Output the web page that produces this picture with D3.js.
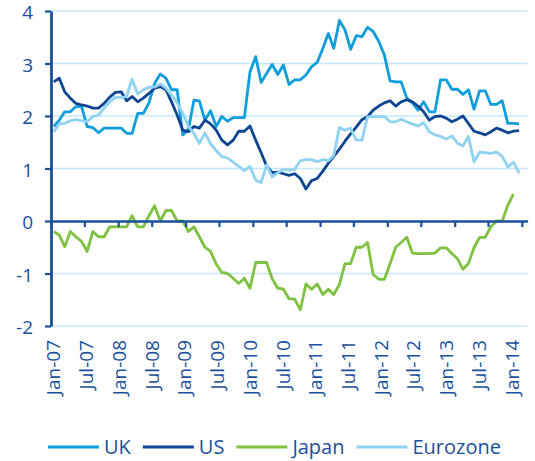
<!DOCTYPE html>
<html><head><meta charset="utf-8">
<script src="https://cdn.jsdelivr.net/npm/d3@7"></script>
<style>body{margin:0;background:#fff}svg{display:block}</style>
</head><body><svg id="c" width="535" height="461"></svg>
<script>
// ---- data (monthly, Jan-07 .. Dec-13; Japan to Nov-13) ----
const firstMonth = "Jan-07";
const tickLabels = ["Jan-07","Jul-07","Jan-08","Jul-08","Jan-09","Jul-09","Jan-10","Jul-10","Jan-11","Jul-11","Jan-12","Jul-12","Jan-13","Jul-13","Jan-14"];
const yTicks = [-2,-1,0,1,2,3,4];
const seriesNames = ["UK","US","Japan","Eurozone"];
const uk = [1.8,1.92,2.08,2.08,2.18,2.18,1.8,1.78,1.68,1.77,1.77,1.77,
  1.77,1.67,1.67,2.05,2.05,2.25,2.62,2.8,2.72,2.5,2.5,1.64,
  1.75,2.3,2.29,1.92,2.1,1.8,1.99,1.9,1.97,1.97,1.97,2.84,
  3.13,2.64,2.81,2.98,2.79,2.97,2.6,2.69,2.69,2.78,2.94,3.02,
  3.29,3.57,3.29,3.82,3.64,3.27,3.53,3.51,3.69,3.61,3.42,3.16,
  2.67,2.65,2.65,2.34,2.25,2.11,2.27,2.08,2.08,2.69,2.69,2.51,
  2.51,2.41,2.5,2.13,2.48,2.48,2.22,2.22,2.29,1.86,1.86,1.85];
const us = [2.65,2.72,2.46,2.34,2.24,2.21,2.19,2.15,2.15,2.24,2.36,2.45,
  2.46,2.29,2.37,2.27,2.34,2.43,2.53,2.56,2.5,2.27,2.02,1.73,
  1.7,1.8,1.77,1.92,1.85,1.73,1.54,1.45,1.54,1.71,1.71,1.81,
  1.54,1.3,1.05,0.92,0.93,0.9,0.87,0.9,0.81,0.61,0.77,0.81,
  0.95,1.1,1.23,1.37,1.52,1.66,1.79,1.93,1.99,2.11,2.19,2.25,
  2.29,2.19,2.27,2.31,2.27,2.19,2.08,1.92,1.99,2.0,1.96,1.89,
  1.94,2.0,1.86,1.71,1.68,1.64,1.7,1.77,1.73,1.68,1.71,1.72];
const japan = [-0.2,-0.27,-0.49,-0.2,-0.3,-0.39,-0.58,-0.2,-0.3,-0.3,-0.11,-0.11,
  -0.11,-0.11,0.1,-0.11,-0.11,0.1,0.29,0,0.2,0.2,0,0,
  -0.2,-0.11,-0.3,-0.5,-0.58,-0.82,-0.98,-1.0,-1.09,-1.19,-1.09,-1.28,
  -0.79,-0.79,-0.79,-1.1,-1.28,-1.3,-1.48,-1.49,-1.69,-1.2,-1.3,-1.2,
  -1.4,-1.3,-1.4,-1.21,-0.81,-0.81,-0.5,-0.5,-0.41,-1.02,-1.11,-1.11,
  -0.81,-0.5,-0.41,-0.31,-0.61,-0.62,-0.62,-0.62,-0.61,-0.51,-0.51,-0.62,
  -0.72,-0.92,-0.81,-0.51,-0.31,-0.31,-0.11,0,0,0.3,0.51];
const eurozone = [1.7,1.85,1.86,1.91,1.93,1.91,1.89,1.99,2.02,2.15,2.27,2.36,
  2.35,2.37,2.7,2.42,2.5,2.55,2.55,2.61,2.53,2.4,2.25,2.05,
  1.8,1.67,1.48,1.68,1.47,1.34,1.23,1.2,1.12,1.04,0.96,1.04,
  0.78,0.73,1.07,0.84,0.92,0.98,0.97,0.98,1.15,1.17,1.17,1.13,
  1.17,1.15,1.25,1.78,1.73,1.77,1.54,1.54,1.99,1.99,1.99,1.99,
  1.89,1.89,1.94,1.89,1.85,1.81,1.87,1.7,1.64,1.61,1.56,1.62,
  1.48,1.43,1.61,1.13,1.31,1.3,1.29,1.31,1.23,1.03,1.12,0.91];
const seriesValues = [uk, us, japan, eurozone];
const seriesColors = ["#0f9ddc","#0d4593","#7fc241","#8fd2f2"];

// ---- chart ----
const svg = d3.select("#c");
const font = "'Open Sans', sans-serif";
const textColor = "#1c4f9c";
const axisColor = "#1a4f9c";
const parse = d3.timeParse("%b-%y");
const t0 = parse(firstMonth);
const tEnd = d3.timeMonth.offset(parse(tickLabels[tickLabels.length-1]), 1);
const x = d3.scaleTime().domain([t0, tEnd]).range([51, 527.6]);
const y = d3.scaleLinear().domain([-2, 4]).range([326, 11]);
const midX = d => (x(d) + x(d3.timeMonth.offset(d, 1))) / 2;
// category-label positions (labels are spread slightly tighter than the ticks)
const xLab = d3.scalePoint().domain(tickLabels).range([53.3, 511.7]);

// grid
svg.append("g").selectAll("line").data(yTicks.filter(v => v !== 0)).join("line")
  .attr("x1", x(t0)).attr("x2", x(tEnd))
  .attr("y1", d => y(d)).attr("y2", d => y(d))
  .attr("stroke", "#c4e8f8").attr("stroke-width", 1.5);

// series
const line = d3.line().x(d => midX(d.date)).y(d => y(d.v));
seriesValues.forEach((vals, k) => {
  const pts = vals.map((v, i) => ({date: d3.timeMonth.offset(t0, i), v}));
  svg.append("path").datum(pts).attr("d", line)
    .attr("fill", "none").attr("stroke", seriesColors[k])
    .attr("stroke-width", 2.8).attr("stroke-linejoin", "round");
});

// x axis at zero
const tickDates = tickLabels.map(parse);
const xAxis = svg.append("g").attr("transform", `translate(0,${y(0)})`)
  .call(d3.axisBottom(x).tickValues(tickDates).tickSize(6).tickSizeOuter(0).tickFormat(""));
xAxis.select(".domain").attr("stroke", axisColor).attr("stroke-width", 2.6);
xAxis.selectAll(".tick line").attr("stroke", axisColor).attr("stroke-width", 2.2);

// x labels (rotated)
svg.append("g").selectAll("text").data(tickLabels).join("text")
  .attr("transform", d => `translate(${xLab(d)},340) rotate(-90)`)
  .attr("text-anchor", "end").attr("dominant-baseline", "central")
  .attr("font-family", font).attr("font-size", 19).attr("fill", textColor)
  .text(d => d);

// y axis
const yAxis = svg.append("g").attr("transform", `translate(${x(t0)},0)`)
  .call(d3.axisLeft(y).tickValues(yTicks).tickSize(6).tickSizeOuter(0).tickPadding(12).tickFormat(d => String(d)));
yAxis.select(".domain").attr("stroke", axisColor).attr("stroke-width", 2.8);
yAxis.selectAll(".tick line").attr("stroke", axisColor).attr("stroke-width", 2.2);
yAxis.selectAll(".tick text").attr("font-family", font).attr("font-size", 19)
  .attr("fill", textColor).attr("dy", "0.4em");

// legend
const lg = svg.append("g").attr("transform", "translate(0,447)");
let cx = 48;
seriesNames.forEach((name, k) => {
  lg.append("line").attr("x1", cx).attr("x2", cx + 51).attr("y1", 0).attr("y2", 0)
    .attr("stroke", seriesColors[k]).attr("stroke-width", 3.2);
  const t = lg.append("text").attr("x", cx + 56).attr("y", 0).attr("dy", "0.36em")
    .attr("font-family", font).attr("font-size", 20).attr("fill", textColor).text(name);
  cx += 56 + t.node().getComputedTextLength() + 12;
});
</script></body></html>
